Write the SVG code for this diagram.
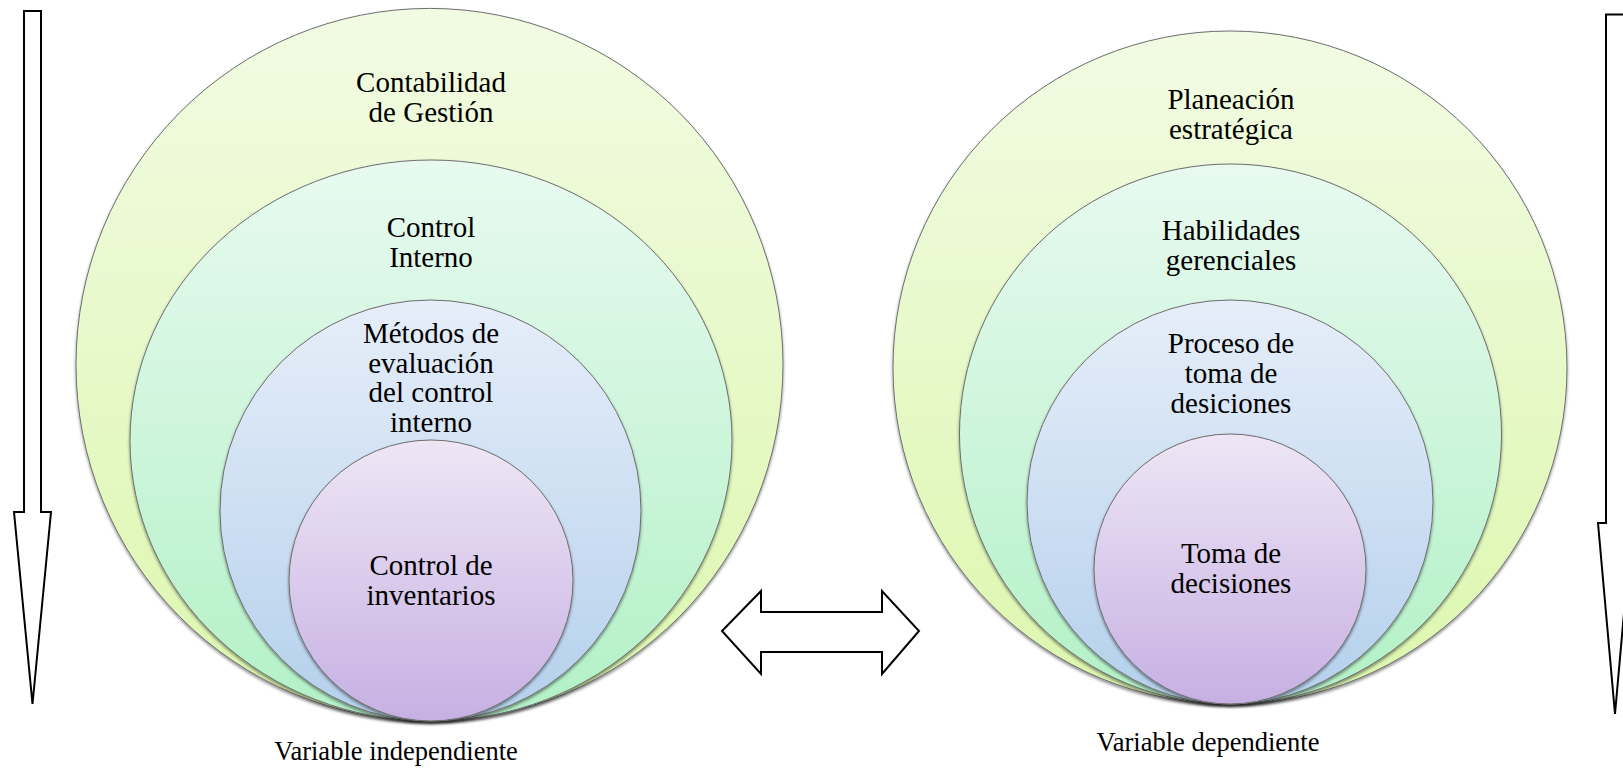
<svg xmlns="http://www.w3.org/2000/svg" width="1623" height="768" viewBox="0 0 1623 768">
<defs>
<linearGradient id="g1" x1="0" y1="0" x2="0" y2="1"><stop offset="0" stop-color="#f2fbe3"/><stop offset="1" stop-color="#dcf7ae"/></linearGradient>
<linearGradient id="g2" x1="0" y1="0" x2="0" y2="1"><stop offset="0" stop-color="#e8faf0"/><stop offset="1" stop-color="#b2f1c6"/></linearGradient>
<linearGradient id="g3" x1="0" y1="0" x2="0" y2="1"><stop offset="0" stop-color="#e6eef9"/><stop offset="1" stop-color="#b4d0ec"/></linearGradient>
<linearGradient id="g4" x1="0" y1="0" x2="0" y2="1"><stop offset="0" stop-color="#eee6f5"/><stop offset="1" stop-color="#c6b0e3"/></linearGradient>
<filter id="sh" x="-10%" y="-10%" width="120%" height="125%"><feDropShadow dx="0" dy="2" stdDeviation="1.6" flood-color="#000" flood-opacity="0.45"/></filter>
</defs>
<style>
.c{stroke:#6e6e6e;stroke-width:1;filter:url(#sh)}
.t{font-family:"Liberation Serif","Times New Roman",serif;font-size:29px;fill:#000;text-anchor:middle}
.v{font-family:"Liberation Serif","Times New Roman",serif;font-size:26.5px;fill:#000;text-anchor:middle}
.a{fill:#fff;stroke:#000;stroke-width:2;stroke-linejoin:miter}
</style>
<g id="left-arrow"><polygon class="a" points="24,11 41,11 41,512 51,512 32.5,704 14,512 24,512"/></g>
<g id="right-arrow"><polygon class="a" points="1606,14.5 1625,14.5 1625,523 1632,523 1615,714 1598,523 1606,523"/></g>
<g id="connectors"><polygon class="a" points="722,631 761,591 761,612 882,612 882,591 919,631 882,674 882,652 761,652 761,674"/></g>
<g id="left-outer"><ellipse class="c" cx="429.5" cy="364.7" rx="353.5" ry="356.3" fill="url(#g1)"/>
<text class="t" x="431" y="92">Contabilidad</text><text class="t" x="431" y="122">de Gestión</text></g>
<g id="left-2"><ellipse class="c" cx="431" cy="440.5" rx="301" ry="280.5" fill="url(#g2)"/>
<text class="t" x="431" y="237">Control</text><text class="t" x="431" y="267">Interno</text></g>
<g id="left-3"><ellipse class="c" cx="430.5" cy="510.5" rx="210.5" ry="210.5" fill="url(#g3)"/>
<text class="t" x="431" y="343">Métodos de</text><text class="t" x="431" y="373">evaluación</text><text class="t" x="431" y="402">del control</text><text class="t" x="431" y="432">interno</text></g>
<g id="left-4"><ellipse class="c" cx="431" cy="580.5" rx="142" ry="140.5" fill="url(#g4)"/>
<text class="t" x="431" y="575">Control de</text><text class="t" x="431" y="605">inventarios</text></g>
<g id="right-outer"><ellipse class="c" cx="1230" cy="367.5" rx="337" ry="336.5" fill="url(#g1)"/>
<text class="t" x="1231" y="109">Planeación</text><text class="t" x="1231" y="139">estratégica</text></g>
<g id="right-2"><ellipse class="c" cx="1230.5" cy="434" rx="271" ry="270" fill="url(#g2)"/>
<text class="t" x="1231" y="240">Habilidades</text><text class="t" x="1231" y="270">gerenciales</text></g>
<g id="right-3"><ellipse class="c" cx="1230" cy="502" rx="203" ry="202" fill="url(#g3)"/>
<text class="t" x="1231" y="353">Proceso de</text><text class="t" x="1231" y="383">toma de</text><text class="t" x="1231" y="413">desiciones</text></g>
<g id="right-4"><ellipse class="c" cx="1230" cy="569" rx="136" ry="135" fill="url(#g4)"/>
<text class="t" x="1231" y="563">Toma de</text><text class="t" x="1231" y="593">decisiones</text></g>
<g id="label-left"><text class="v" x="396" y="760">Variable independiente</text></g>
<g id="label-right"><text class="v" x="1208" y="751">Variable dependiente</text></g>
</svg>
